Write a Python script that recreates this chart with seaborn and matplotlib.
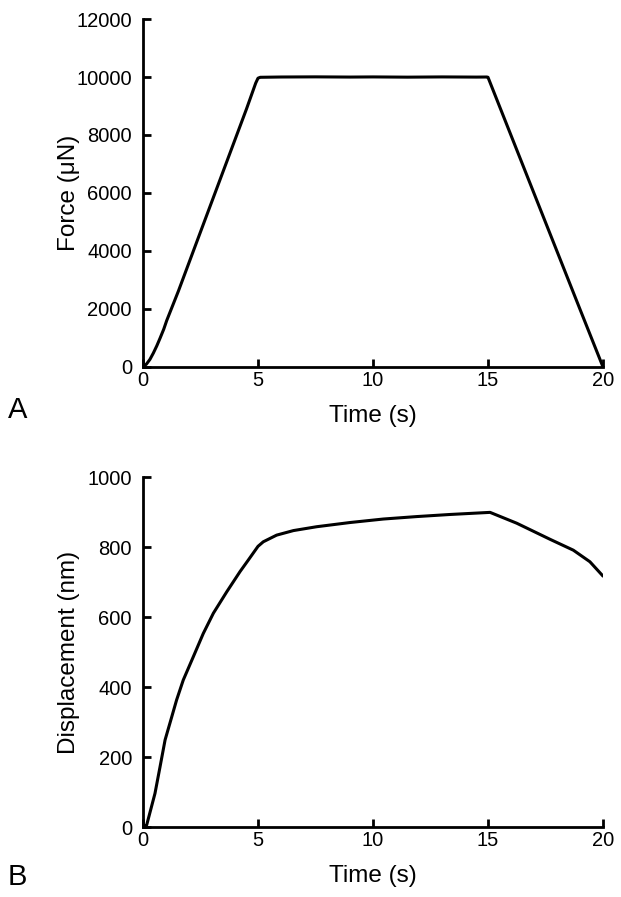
import matplotlib
matplotlib.use("Agg")
import matplotlib.pyplot as plt
import seaborn as sns
import pandas as pd

# Panel A: force vs time
force_time = [0.0, 0.15, 0.3, 0.45, 0.6, 0.74, 0.9, 1.03, 1.17, 1.3, 1.54, 2.5, 3.5, 4.5, 4.9, 5.0, 5.1, 6.0, 7.5, 9.0, 10.0, 11.5, 13.0, 14.5, 14.95, 15.0, 16.0, 17.0, 18.0, 19.0, 20.0]
force_uN   = [0, 100, 260, 480, 730, 990, 1300, 1600, 1880, 2140, 2620, 4660, 6780, 8900, 9790, 9960, 9990, 10000, 10005, 9998, 10003, 9995, 10003, 9997, 10000, 9990, 7990, 5990, 3990, 1990, 0]

# Panel B: displacement vs time
disp_time = [0.0, 0.16, 0.52, 0.74, 0.96, 1.25, 1.46, 1.75, 2.19, 2.62, 3.06, 3.64, 4.22, 4.58, 5.0, 5.23, 5.81, 6.54, 7.55, 9.0, 10.45, 11.9, 13.35, 15.09, 16.25, 17.7, 18.71, 19.43, 20.0]
disp_nm   = [0, 6, 96, 172, 249, 315, 363, 420, 487, 553, 611, 672, 730, 763, 802, 815, 834, 847, 858, 870, 880, 887, 893, 899, 868, 822, 791, 758, 717]

x_ticks = [0, 5, 10, 15, 20]
force_ticks = [0, 2000, 4000, 6000, 8000, 10000, 12000]
disp_ticks = [0, 200, 400, 600, 800, 1000]

sns.set_style("ticks")
plt.rcParams['font.family'] = ['Liberation Sans', 'DejaVu Sans']

fig = plt.figure(figsize=(6.21, 8.97), dpi=100)
ax1 = fig.add_axes([0.2303, 0.5909, 0.7407, 0.3879])
ax2 = fig.add_axes([0.2303, 0.0780, 0.7407, 0.3902])

df_f = pd.DataFrame({"Time (s)": force_time, "Force": force_uN})
df_d = pd.DataFrame({"Time (s)": disp_time, "Disp": disp_nm})

sns.lineplot(data=df_f, x="Time (s)", y="Force", ax=ax1, color="black", linewidth=2.2, sort=False)
sns.lineplot(data=df_d, x="Time (s)", y="Disp", ax=ax2, color="black", linewidth=2.2, sort=False)

for ax, yt, ylab in [(ax1, force_ticks, "Force (\u03bcN)"), (ax2, disp_ticks, "Displacement (nm)")]:
    ax.set_xlim(0, 20)
    ax.set_ylim(yt[0], yt[-1])
    ax.set_xticks(x_ticks)
    ax.set_yticks(yt)
    ax.set_xticklabels([str(v) for v in x_ticks])
    ax.set_yticklabels([str(v) for v in yt])
    sns.despine(ax=ax)
    for s in ["left", "bottom"]:
        ax.spines[s].set_linewidth(2.0)
        ax.spines[s].set_color("black")
    ax.tick_params(direction="in", length=6, width=2.0, labelsize=14.5, color="black", labelcolor="black")
    ax.tick_params(axis="y", pad=8)
    ax.tick_params(axis="x", pad=3)
    ax.set_xlabel("Time (s)", fontsize=17.5, labelpad=11, color="black")
    ax.set_ylabel(ylab, fontsize=17.5, color="black")
    ax.yaxis.set_label_coords(-0.137, 0.5)

fig.text(0.013, 0.543, "A", fontsize=21, ha="left", va="center", color="black")
fig.text(0.013, 0.0223, "B", fontsize=21, ha="left", va="center", color="black")

fig.savefig("out.png", dpi=100)
